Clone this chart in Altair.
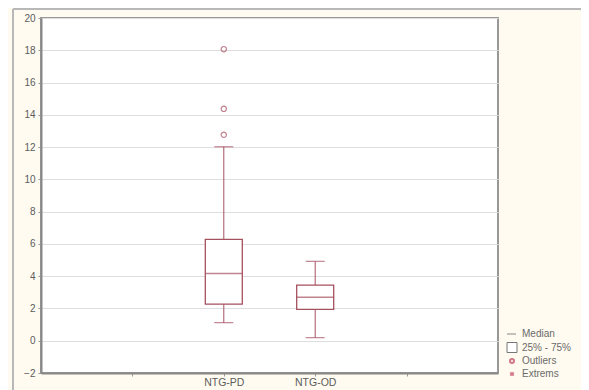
import altair as alt
import pandas as pd

categories = ["NTG-PD", "NTG-OD"]
whisker_low = [1.12, 0.19]
q1 = [2.27, 1.94]
median = [4.17, 2.69]
q3 = [6.28, 3.45]
whisker_high = [12.02, 4.92]

outlier_cat = ["NTG-PD", "NTG-PD", "NTG-PD"]
outlier_val = [18.07, 14.37, 12.76]

x_domain = [" ", "NTG-PD", "NTG-OD", "  "]
legend_labels = ["Median", "25% - 75%", "Outliers", "Extrems"]

box_df = pd.DataFrame({
    "cat": categories, "lo": whisker_low, "q1": q1,
    "med": median, "q3": q3, "hi": whisker_high,
})
out_df = pd.DataFrame({"cat": outlier_cat, "val": outlier_val})

STROKE = "#a5505f"
FONT = "Liberation Sans"

xenc = alt.X("cat:N", scale=alt.Scale(type="point", domain=x_domain, padding=1),
             axis=alt.Axis(title=None, labelAngle=0, grid=False, labelFontSize=10.5,
                           labelColor="#5c5c5c", labelFont=FONT,
                           tickColor="#999", tickSize=3, domainColor="#888",
                           domainWidth=2, labelPadding=1))
yscale = alt.Scale(domain=[-2, 20], nice=False, zero=False)
yaxis = alt.Axis(title=None, values=list(range(-2, 21, 2)), grid=True,
                 gridColor="#dedede", labelFontSize=10, labelColor="#5c5c5c",
                 labelFont=FONT, tickSize=3, tickColor="#999",
                 domainColor="#888", domainWidth=2, labelPadding=3)

base = alt.Chart(box_df)

one = pd.DataFrame({"a": [0]})
frame_top = alt.Chart(one).mark_rule(color="#b8b8b8", strokeWidth=2).encode(
    x=alt.value(-28), x2=alt.value(560), y=alt.value(-9))
frame_left = alt.Chart(one).mark_rule(color="#b8b8b8", strokeWidth=2).encode(
    x=alt.value(-28), y=alt.value(-9), y2=alt.value(380))

whisk_lo = base.mark_rule(color=STROKE, strokeWidth=1).encode(
    x=xenc, y=alt.Y("lo:Q", scale=yscale, axis=yaxis), y2="q1:Q")
whisk_hi = base.mark_rule(color=STROKE, strokeWidth=1).encode(
    x=xenc, y=alt.Y("q3:Q", scale=yscale, axis=yaxis), y2="hi:Q")
box = base.mark_bar(size=37, fill="white", stroke=STROKE, strokeWidth=1.3).encode(
    x=xenc, y=alt.Y("q1:Q", scale=yscale, axis=yaxis), y2="q3:Q")
med = base.mark_tick(size=37, thickness=1.5, color=STROKE).encode(
    x=xenc, y=alt.Y("med:Q", scale=yscale, axis=yaxis))
cap_lo = base.mark_tick(size=19, thickness=1.2, color=STROKE).encode(
    x=xenc, y=alt.Y("lo:Q", scale=yscale, axis=yaxis))
cap_hi = base.mark_tick(size=19, thickness=1.2, color=STROKE).encode(
    x=xenc, y=alt.Y("hi:Q", scale=yscale, axis=yaxis))
outl = alt.Chart(out_df).mark_point(shape="circle", size=28, color=STROKE,
                                    filled=False, strokeWidth=1.2).encode(
    x=xenc, y=alt.Y("val:Q", scale=yscale, axis=yaxis))

# legend
leg_y = [316, 329.5, 343, 356]
leg_text = []
for i, lab in enumerate(legend_labels):
    leg_text.append(
        alt.Chart(pd.DataFrame({"t": [lab]})).mark_text(
            align="left", baseline="middle", fontSize=10, font=FONT, color="#6a6a6a"
        ).encode(text="t:N", x=alt.value(481), y=alt.value(leg_y[i]))
    )
sym_median = alt.Chart(one).mark_rule(color="#888").encode(
    x=alt.value(466), x2=alt.value(475), y=alt.value(leg_y[0]))
sym_box = alt.Chart(one).mark_rect(
    fill="white", stroke="#777", strokeWidth=1).encode(
    x=alt.value(466), x2=alt.value(476), y=alt.value(leg_y[1] - 5), y2=alt.value(leg_y[1] + 5))
sym_out = alt.Chart(one).mark_point(
    shape="circle", size=16, color="#c0405a", filled=False).encode(
    x=alt.value(471), y=alt.value(leg_y[2]))
sym_ext = alt.Chart(one).mark_point(
    shape="cross", size=22, color="#c0405a", filled=True, angle=45).encode(
    x=alt.value(471), y=alt.value(leg_y[3]))

chart = alt.layer(
    frame_top, frame_left, whisk_lo, whisk_hi, box, med, cap_lo, cap_hi, outl,
    sym_median, sym_box, sym_out, sym_ext, *leg_text
).properties(
    width=457, height=355,
    autosize=alt.AutoSizeParams(type="none"),
    padding={"left": 33, "top": 10, "right": 83, "bottom": 17},
    background="#fffbf0",
).configure_view(
    stroke="#999", strokeWidth=2, fill="white"
)

chart.save("out.html", embed_options={"renderer": "svg", "actions": False})
